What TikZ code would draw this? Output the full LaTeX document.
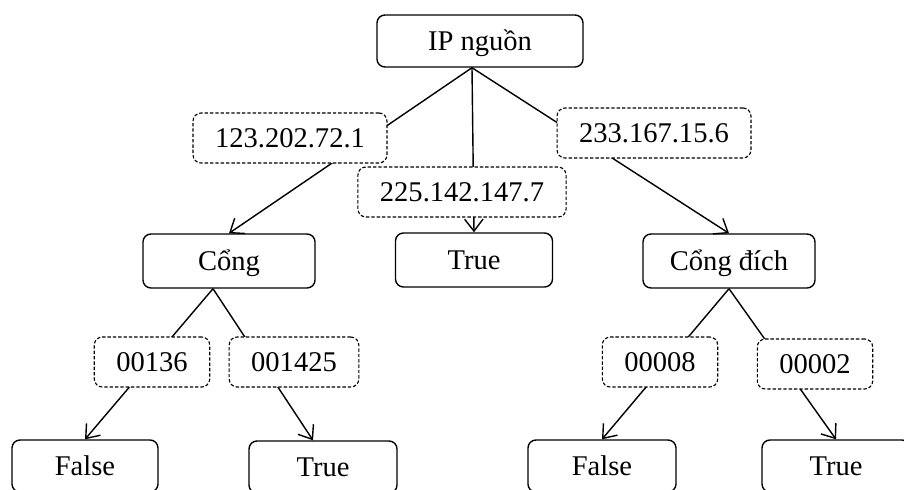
\documentclass[tikz,border=0pt]{standalone}
\usepackage{fontspec}
\setmainfont{Liberation Serif}
\usetikzlibrary{calc, arrows.meta, positioning}

\begin{document}
\begin{tikzpicture}[x=0.025cm, y=-0.025cm,
    box/.style={draw, rounded corners=0.2cm, line width=1pt, minimum height=1.3cm,
        text height=14pt, text depth=0pt, font=\fontsize{20.3}{24}\selectfont},
    lbl/.style={draw, dash pattern=on 2.4pt off 1.4pt, rounded corners=0.2cm, line width=0.8pt,
        fill=white, minimum height=1.25cm, inner xsep=0.55cm,
        text height=14pt, text depth=0pt, font=\fontsize{20.3}{24}\selectfont},
    edge/.style={line width=1pt, -{Straight Barb[length=3mm,width=4.6mm]}}]
    \path[use as bounding box] (0,0) rectangle (904,489);
    \clip (0,0) rectangle (904,489);
    % Decision nodes
    \node[box, minimum width=5.15cm] (root) at (480,41) {IP nguồn};
    \node[box, minimum width=4.3cm, minimum height=1.35cm] (cong) at (229,261) {Cổng};
    \node[box, minimum width=3.925cm, minimum height=1.35cm] (true1) at (474,260) {True};
    \node[box, minimum width=4.3cm, minimum height=1.35cm] (congdich) at (729,261) {Cổng đích};
    % Leaves
    \node[box, minimum width=3.65cm] (false1) at (85,466) {False};
    \node[box, minimum width=3.7cm] (true2) at (323,467) {True};
    \node[box, minimum width=3.7cm] (false2) at (602,466) {False};
    \node[box, minimum width=3.7cm] (true3) at (836,466) {True};
    % Branches
    \draw[edge] ($(root.south)+(-8,0)$) -- (cong.north);
    \draw[edge] ($(root.south)+(-8,0)$) -- (true1.north);
    \draw[edge] ($(root.south)+(-8,0)$) -- (congdich.north);
    \draw[edge] ($(cong.south)+(-16,0)$) -- (false1.north);
    \draw[edge] ($(cong.south)+(-16,0)$) -- ($(true2.north)+(-10,0)$);
    \draw[edge] (congdich.south) -- (false2.north);
    \draw[edge] (congdich.south) -- (true3.north);
    % Branch values
    \node[lbl] (ipa) at (290,138) {123.202.72.1};
    \node[lbl] (ipb) at (462,192) {225.142.147.7};
    \node[lbl] (ipc) at (654,133) {233.167.15.6};
    \node[lbl] (porta) at (152,362) {00136};
    \node[lbl] (portb) at (294,362) {001425};
    \node[lbl] (portc) at (660,362) {00008};
    \node[lbl] (portd) at (815,364) {00002};
\end{tikzpicture}
\end{document}
